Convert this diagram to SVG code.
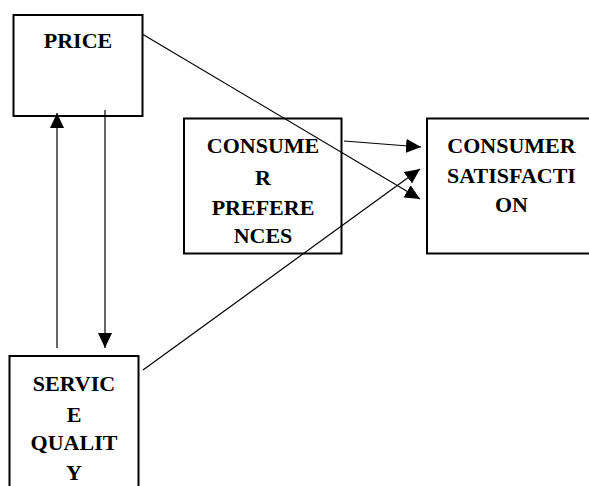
<svg xmlns="http://www.w3.org/2000/svg" width="589" height="486" viewBox="0 0 589 486">
<style>
.box{fill:#fff;stroke:#000;stroke-width:2}
.lbl{font-family:"Liberation Serif","Times New Roman",serif;font-weight:bold;font-size:22px;fill:#000;text-anchor:middle}
.con{stroke:#000;stroke-width:1.2;fill:none;marker-end:url(#ah)}
</style>
<defs>
<marker id="ah" markerUnits="userSpaceOnUse" markerWidth="16" markerHeight="14" refX="15" refY="7" orient="auto">
<path d="M0,0 L15,7 L0,14 Z" fill="#000"/>
</marker>
</defs>
<rect width="589" height="486" fill="#fff"/>
<g id="price">
<rect class="box" x="13.5" y="15" width="129" height="101"/>
<text class="lbl" x="78" y="48">PRICE</text>
</g>
<g id="preferences">
<rect class="box" x="184" y="118.5" width="157.5" height="135"/>
<text class="lbl" x="263" y="152.5">CONSUME</text>
<text class="lbl" x="263" y="184.5">R</text>
<text class="lbl" x="263" y="214.5">PREFERE</text>
<text class="lbl" x="263" y="243">NCES</text>
</g>
<g id="satisfaction">
<rect class="box" x="427" y="118.5" width="170" height="135"/>
<text class="lbl" x="511.5" y="152.5">CONSUMER</text>
<text class="lbl" x="511.5" y="183">SATISFACTI</text>
<text class="lbl" x="511.5" y="212">ON</text>
</g>
<g id="service">
<rect class="box" x="9.5" y="356" width="129" height="140"/>
<text class="lbl" x="74" y="391">SERVIC</text>
<text class="lbl" x="74" y="422">E</text>
<text class="lbl" x="74" y="450">QUALIT</text>
<text class="lbl" x="74" y="480">Y</text>
</g>
<g id="connectors">
<line class="con" x1="143" y1="34.5" x2="420" y2="199"/>
<line class="con" x1="344" y1="141" x2="421" y2="147"/>
<line class="con" x1="143" y1="370" x2="420" y2="169"/>
<line class="con" x1="57" y1="348" x2="57" y2="113"/>
<line class="con" x1="105" y1="110" x2="105" y2="348"/>
</g>
</svg>
